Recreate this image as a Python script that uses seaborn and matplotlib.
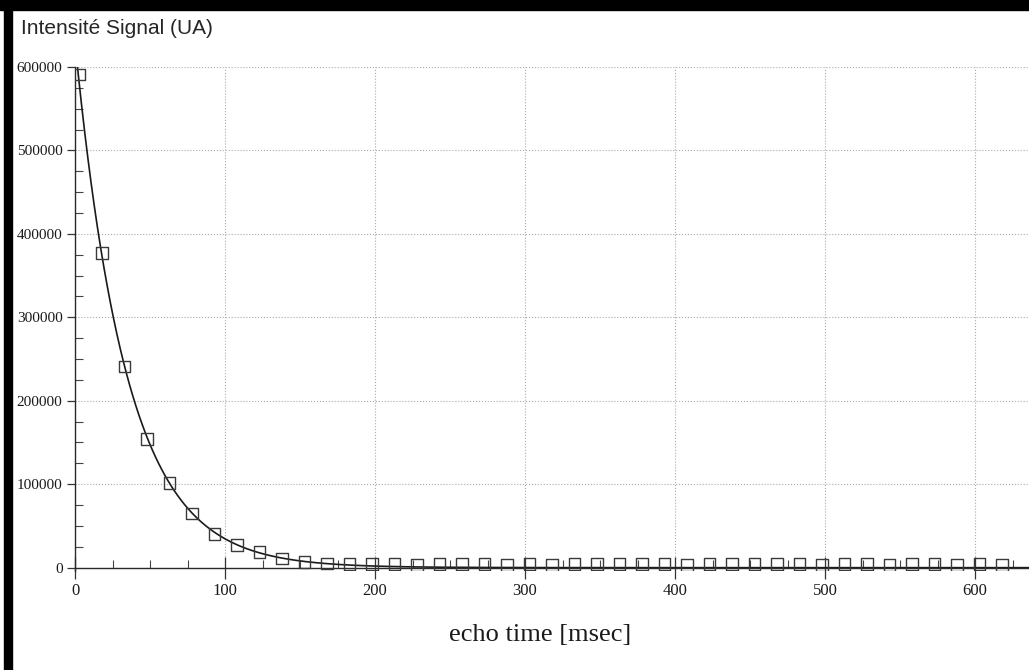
import numpy as np
import pandas as pd
import matplotlib.pyplot as plt
import seaborn as sns
from matplotlib.patches import Rectangle
from matplotlib.ticker import MultipleLocator, FixedLocator

echo_time = [3, 18, 33, 48, 63, 78, 93, 108, 123, 138, 153, 168, 183, 198,
             213, 228, 243, 258, 273, 288, 303, 318, 333, 348, 363, 378, 393,
             408, 423, 438, 453, 468, 483, 498, 513, 528, 543, 558, 573, 588,
             603, 618]
signal = [591000, 377000, 241000, 154000, 101000, 65000, 40000, 27000, 19000,
          11000, 7000, 5000, 4500, 4000, 4000, 3500, 4000, 4500, 4000, 3500,
          4000, 3500, 4500, 4000, 4000, 4500, 4000, 3500, 4000, 4500, 4000,
          4500, 4000, 3500, 4500, 4000, 3500, 4000, 4000, 3500, 4500, 3500]

x_ticks = [0, 100, 200, 300, 400, 500, 600]
y_ticks = [0, 100000, 200000, 300000, 400000, 500000, 600000]

y_title = "Intensité Signal (UA)"
x_title = "echo time [msec]"

df = pd.DataFrame({"t": echo_time, "s": signal})

# mono-exponential fit on the decaying part (log-linear fit)
decay = df[df["s"] > 15000]
slope, intercept = np.polyfit(decay["t"], np.log(decay["s"]), 1)
t_fit = np.linspace(0, 640, 600)
fit = pd.DataFrame({"t": t_fit, "s": np.exp(intercept + slope * t_fit)})

sns.set_style("white")
plt.rcParams["font.family"] = ["Liberation Serif", "DejaVu Serif"]

fig = plt.figure(figsize=(10.29, 6.70), dpi=100)
ax = fig.add_axes([75 / 1029, 99 / 670, 1 - 75 / 1029, 504 / 670])

sns.lineplot(data=fit, x="t", y="s", ax=ax, color="#1a1a1a", linewidth=1.2)
sns.scatterplot(data=df, x="t", y="s", ax=ax, marker="s", s=72,
                fc="none", ec="#3a3a3a", linewidth=1.0, zorder=3)

ax.set_xlim(0, 636)
ax.set_ylim(-4000, 600000)

ax.xaxis.set_major_locator(FixedLocator(x_ticks))
ax.yaxis.set_major_locator(FixedLocator(y_ticks))
ax.set_xticklabels([str(v) for v in x_ticks])
ax.set_yticklabels([str(v) for v in y_ticks])
ax.xaxis.set_minor_locator(MultipleLocator(25))
ax.yaxis.set_minor_locator(MultipleLocator(25000))

ax.tick_params(which="both", bottom=True, left=True, top=False, right=False)
ax.tick_params(which="major", width=0.9, color="#333333", labelcolor="#1a1a1a")
ax.tick_params(axis="x", which="major", direction="inout", length=16, pad=3,
               labelsize=12)
ax.tick_params(axis="y", which="major", direction="out", length=6, pad=3,
               labelsize=11)
ax.tick_params(which="minor", direction="in", length=6, width=0.8,
               color="#444444")
# x tick labels start at their tick, as in the original
for lab in ax.get_xticklabels():
    lab.set_horizontalalignment("left")

ax.grid(True, which="major", linestyle=":", linewidth=0.8, color="#aaaaaa")

for side in ["top", "right"]:
    ax.spines[side].set_visible(False)
for side in ["left", "bottom"]:
    ax.spines[side].set_color("#2a2a2a")
    ax.spines[side].set_linewidth(1.0)
ax.spines["bottom"].set_position(("data", 0))

ax.set_ylabel("")
ax.set_xlabel(x_title, fontsize=19, color="#1a1a1a")
ax.xaxis.set_label_coords((540 - 75) / (1029 - 75), -0.105)

fig.text(21 / 1029, 1 - 28 / 670, y_title, fontsize=15,
         family=["Liberation Sans", "DejaVu Sans"], va="center", ha="left")

# black frame strips on the top and left edge of the original scan
fig.patches.append(Rectangle((0, 1 - 10 / 670), 1, 10 / 670,
                             transform=fig.transFigure, color="black"))
fig.patches.append(Rectangle((4 / 1029, 0), 8 / 1029, 1,
                             transform=fig.transFigure, color="black"))

plt.savefig("out.png", dpi=100)
